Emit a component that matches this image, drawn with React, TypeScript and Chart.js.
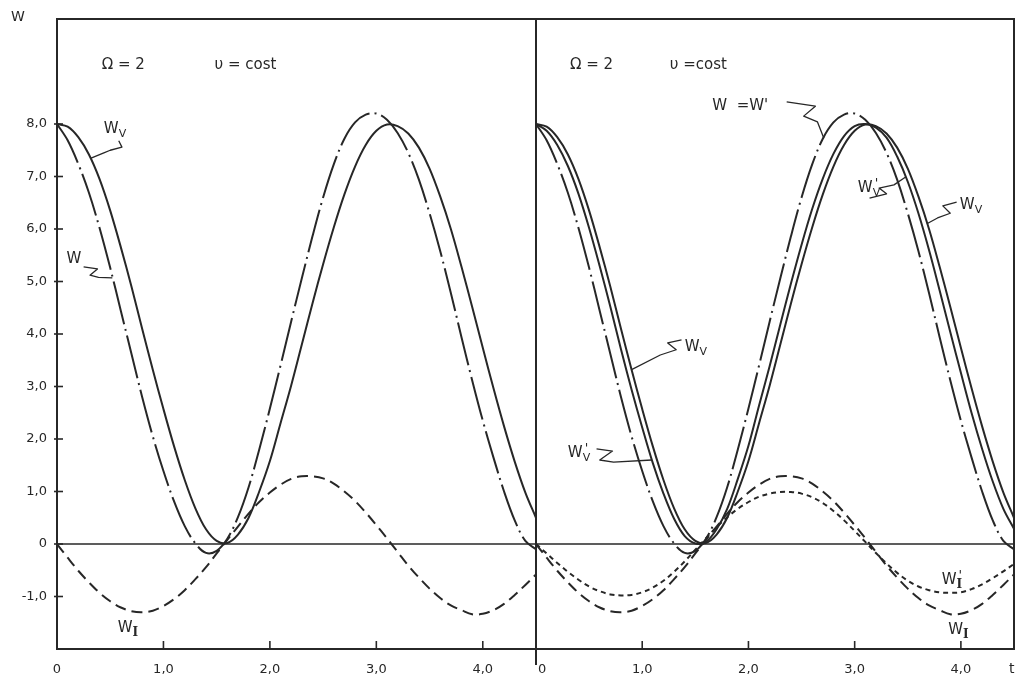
import React, { useEffect, useRef } from "react";
import { Chart, registerables } from "chart.js";

Chart.register(...registerables);

// ---- data ----
const tValues = [0, 0.1, 0.2, 0.3, 0.4, 0.5, 0.6, 0.7, 0.8, 0.9, 1.0, 1.1, 1.2, 1.3, 1.4, 1.5, 1.6, 1.7, 1.8, 1.9, 2.0, 2.1, 2.2, 2.3, 2.4, 2.5, 2.6, 2.7, 2.8, 2.9, 3.0, 3.1, 3.2, 3.3, 3.4, 3.5, 3.6, 3.7, 3.8, 3.9, 4.0, 4.1, 4.2, 4.3, 4.4, 4.5];

const wvValues = [8.0, 7.95, 7.75, 7.42, 6.95, 6.35, 5.65, 4.9, 4.1, 3.32, 2.57, 1.86, 1.22, 0.68, 0.28, 0.06, 0.02, 0.18, 0.5, 1.0, 1.58, 2.3, 3.02, 3.8, 4.58, 5.33, 6.03, 6.66, 7.19, 7.6, 7.87, 7.99, 7.96, 7.82, 7.55, 7.15, 6.62, 6.0, 5.28, 4.52, 3.74, 2.97, 2.24, 1.57, 0.98, 0.5];

const wValues = [8.0, 7.69, 7.24, 6.69, 6.02, 5.26, 4.44, 3.62, 2.8, 2.05, 1.39, 0.81, 0.34, 0.01, -0.17, -0.13, 0.1, 0.51, 1.08, 1.8, 2.58, 3.4, 4.24, 5.06, 5.86, 6.6, 7.23, 7.72, 8.03, 8.18, 8.2, 8.08, 7.83, 7.45, 6.94, 6.3, 5.58, 4.78, 3.94, 3.12, 2.35, 1.65, 1.0, 0.45, 0.06, -0.1];

const wvPrimeValues = [8.0, 7.87, 7.6, 7.2, 6.67, 6.02, 5.29, 4.52, 3.71, 2.94, 2.22, 1.54, 0.96, 0.48, 0.15, 0.01, 0.04, 0.28, 0.67, 1.24, 1.87, 2.64, 3.39, 4.18, 4.96, 5.7, 6.38, 6.96, 7.43, 7.77, 7.96, 8.0, 7.93, 7.74, 7.38, 6.9, 6.3, 5.6, 4.83, 4.04, 3.26, 2.5, 1.81, 1.19, 0.67, 0.29];

const wiValues = [0.0, -0.26, -0.51, -0.73, -0.93, -1.09, -1.21, -1.28, -1.3, -1.27, -1.18, -1.05, -0.88, -0.67, -0.44, -0.18, 0.08, 0.33, 0.58, 0.8, 0.98, 1.13, 1.24, 1.29, 1.29, 1.25, 1.15, 1.0, 0.82, 0.6, 0.36, 0.11, -0.15, -0.41, -0.64, -0.85, -1.03, -1.17, -1.26, -1.34, -1.33, -1.26, -1.14, -0.97, -0.78, -0.58];

const wiPrimeValues = [0.0, -0.18, -0.36, -0.53, -0.68, -0.81, -0.9, -0.96, -0.98, -0.97, -0.92, -0.83, -0.7, -0.53, -0.33, -0.11, 0.11, 0.32, 0.51, 0.67, 0.8, 0.9, 0.96, 0.99, 0.99, 0.96, 0.89, 0.78, 0.63, 0.45, 0.25, 0.04, -0.17, -0.37, -0.55, -0.7, -0.81, -0.88, -0.92, -0.93, -0.92, -0.86, -0.77, -0.65, -0.52, -0.38];

const xTickValues = [0, 1, 2, 3, 4];
const xTickLabels = ["0", "1,0", "2,0", "3,0", "4,0"];
const yTickValues = [-1, 0, 1, 2, 3, 4, 5, 6, 7, 8];
const yTickLabels = ["-1,0", "0", "1,0", "2,0", "3,0", "4,0", "5,0", "6,0", "7,0", "8,0"];

const X_MIN = 0;
const X_MAX = 4.5;
const Y_MIN = -2;
const Y_MAX = 10;

// ---- styling ----
const INK = "#272727";
const SANS = "'DejaVu Sans', 'Liberation Sans', sans-serif";
const SERIF = "'DejaVu Serif', 'Liberation Serif', serif";

const DASH_DOT = [44, 5, 2, 5];
const LONG_DASH = [11, 6];
const SHORT_DASH = [5, 4];

function makePoints(values: number[]) {
  return tValues.map((t, i) => ({ x: t, y: values[i] }));
}

function line(label: string, values: number[], dash: number[], width = 2) {
  return {
    label,
    data: makePoints(values),
    borderColor: INK,
    borderWidth: width,
    borderDash: dash,
    pointRadius: 0,
    tension: 0.35,
    fill: false,
    clip: 0,
  };
}

type Ann = {
  main: string;
  sub?: string;
  prime?: boolean;
  at: [number, number];
  leader?: [number, number][];
};

type PanelCfg = {
  left: number;
  width: number;
  padding: { left: number; right: number; top: number; bottom: number };
  datasets: any[];
  showYTicks: boolean;
  zeroLabelShift: number;
  headers: { text: string; at: [number, number] }[];
  annotations: Ann[];
  extra?: (ctx: CanvasRenderingContext2D, chart: any) => void;
};

function drawAnn(ctx: CanvasRenderingContext2D, xs: any, ys: any, a: Ann) {
  const x = xs.getPixelForValue(a.at[0]);
  const y = ys.getPixelForValue(a.at[1]);
  ctx.fillStyle = INK;
  ctx.textAlign = "left";
  ctx.textBaseline = "alphabetic";
  ctx.font = `15px ${SANS}`;
  ctx.fillText(a.main, x, y);
  const w = ctx.measureText(a.main).width;
  if (a.sub) {
    ctx.font = a.sub === "I" ? `bold 12px ${SERIF}` : `11px ${SANS}`;
    ctx.fillText(a.sub, x + w, y + 4);
  }
  if (a.prime) {
    ctx.font = `13px ${SANS}`;
    ctx.fillText("'", x + w + 2, y - 5);
  }
  if (a.leader) {
    ctx.beginPath();
    a.leader.forEach(([t, v], i) => {
      const px = xs.getPixelForValue(t);
      const py = ys.getPixelForValue(v);
      if (i === 0) ctx.moveTo(px, py);
      else ctx.lineTo(px, py);
    });
    ctx.strokeStyle = INK;
    ctx.lineWidth = 1.3;
    ctx.lineJoin = "round";
    ctx.setLineDash([]);
    ctx.stroke();
  }
}

function Panel({ cfg }: { cfg: PanelCfg }) {
  const ref = useRef<HTMLCanvasElement | null>(null);
  useEffect(() => {
    if (!ref.current) return;
    const deco = {
      id: "deco",
      beforeDatasetsDraw(chart: any) {
        const { ctx, chartArea: ca } = chart;
        const ys = chart.scales.y;
        const y0 = ys.getPixelForValue(0);
        ctx.save();
        ctx.strokeStyle = INK;
        ctx.lineWidth = 1.5;
        ctx.setLineDash([]);
        ctx.beginPath();
        ctx.moveTo(ca.left, y0);
        ctx.lineTo(ca.right, y0);
        ctx.stroke();
        ctx.restore();
      },
      afterDatasetsDraw(chart: any) {
        const { ctx, chartArea: ca } = chart;
        const xs = chart.scales.x;
        const ys = chart.scales.y;
        ctx.save();
        ctx.setLineDash([]);
        ctx.strokeStyle = INK;
        ctx.fillStyle = INK;
        ctx.lineWidth = 2;
        ctx.strokeRect(ca.left, ca.top, ca.right - ca.left, ca.bottom - ca.top);

        // x ticks (inward) and labels
        ctx.lineWidth = 1.6;
        ctx.font = `13px ${SANS}`;
        ctx.textBaseline = "middle";
        xTickValues.forEach((v, i) => {
          const px = xs.getPixelForValue(v);
          if (v !== 0) {
            ctx.beginPath();
            ctx.moveTo(px, ca.bottom);
            ctx.lineTo(px, ca.bottom - 8);
            ctx.stroke();
          }
          if (v === 0 && cfg.zeroLabelShift) {
            ctx.textAlign = "left";
            ctx.fillText(xTickLabels[i], px + cfg.zeroLabelShift, ca.bottom + 21);
          } else {
            ctx.textAlign = "center";
            ctx.fillText(xTickLabels[i], px, ca.bottom + 21);
          }
        });

        // y ticks and labels
        if (cfg.showYTicks) {
          ctx.textAlign = "right";
          yTickValues.forEach((v, i) => {
            const py = ys.getPixelForValue(v);
            ctx.beginPath();
            ctx.moveTo(ca.left - 3, py);
            ctx.lineTo(ca.left + 6, py);
            ctx.stroke();
            ctx.fillText(yTickLabels[i], ca.left - 10, py);
          });
        }

        // header texts
        ctx.textAlign = "left";
        ctx.textBaseline = "alphabetic";
        ctx.font = `15px ${SANS}`;
        cfg.headers.forEach((h) => {
          ctx.fillText(h.text, xs.getPixelForValue(h.at[0]), ys.getPixelForValue(h.at[1]));
        });

        cfg.annotations.forEach((a) => drawAnn(ctx, xs, ys, a));
        if (cfg.extra) cfg.extra(ctx, chart);
        ctx.restore();
      },
    };

    const chart = new Chart(ref.current, {
      type: "line",
      data: { datasets: cfg.datasets },
      options: {
        responsive: false,
        animation: false,
        devicePixelRatio: 1,
        layout: { padding: cfg.padding },
        plugins: { legend: { display: false }, tooltip: { enabled: false } },
        scales: {
          x: { type: "linear", min: X_MIN, max: X_MAX, display: false },
          y: { type: "linear", min: Y_MIN, max: Y_MAX, display: false },
        },
      },
      plugins: [deco],
    } as any);
    return () => chart.destroy();
  }, [cfg]);
  return (
    <canvas
      ref={ref}
      width={cfg.width}
      height={680}
      style={{ position: "absolute", left: cfg.left, top: 0, width: cfg.width, height: 680 }}
    />
  );
}

const leftCfg: PanelCfg = {
  left: 0,
  width: 545,
  padding: { left: 57, right: 9, top: 19, bottom: 31 },
  showYTicks: true,
  zeroLabelShift: 0,
  datasets: [
    line("W_V", wvValues, []),
    line("W", wValues, DASH_DOT),
    line("W_I", wiValues, LONG_DASH),
  ],
  headers: [
    { text: "Ω = 2", at: [0.42, 9.05] },
    { text: "υ = cost", at: [1.48, 9.05] },
  ],
  annotations: [
    { main: "W", sub: "V", at: [0.44, 7.83], leader: [[0.58, 7.68], [0.61, 7.56], [0.5, 7.5], [0.44, 7.45], [0.32, 7.35]] },
    { main: "W", at: [0.09, 5.35], leader: [[0.25, 5.28], [0.38, 5.24], [0.31, 5.12], [0.39, 5.08], [0.52, 5.07]] },
    { main: "W", sub: "I", at: [0.57, -1.68] },
  ],
  extra: (ctx, chart) => {
    const ca = chart.chartArea;
    ctx.lineWidth = 2;
    ctx.beginPath();
    ctx.moveTo(ca.right, ca.bottom);
    ctx.lineTo(ca.right, ca.bottom + 16);
    ctx.stroke();
    ctx.font = `14px ${SANS}`;
    ctx.textAlign = "left";
    ctx.fillText("W", 11, 21);
  },
};

const rightCfg: PanelCfg = {
  left: 520,
  width: 497,
  padding: { left: 16, right: 3, top: 19, bottom: 31 },
  showYTicks: false,
  zeroLabelShift: 2,
  datasets: [
    line("W = W'", wValues, DASH_DOT),
    line("W'_V", wvPrimeValues, []),
    line("W_V", wvValues, []),
    line("W_I", wiValues, LONG_DASH),
    line("W'_I", wiPrimeValues, SHORT_DASH),
  ],
  headers: [
    { text: "Ω = 2", at: [0.32, 9.05] },
    { text: "υ =cost", at: [1.26, 9.05] },
  ],
  annotations: [
    { main: "W  =W'", at: [1.66, 8.27], leader: [[2.36, 8.42], [2.63, 8.34], [2.52, 8.15], [2.65, 8.04], [2.71, 7.73]] },
    { main: "W", sub: "V", prime: true, at: [3.03, 6.7], leader: [[3.14, 6.59], [3.3, 6.67], [3.23, 6.78], [3.37, 6.84], [3.48, 6.99]] },
    { main: "W", sub: "V", at: [3.99, 6.38], leader: [[3.96, 6.51], [3.83, 6.44], [3.9, 6.3], [3.78, 6.21], [3.68, 6.1]] },
    { main: "W", sub: "V", at: [1.4, 3.68], leader: [[1.37, 3.89], [1.24, 3.83], [1.32, 3.7], [1.17, 3.6], [0.9, 3.32]] },
    { main: "W", sub: "V", prime: true, at: [0.3, 1.66], leader: [[0.57, 1.81], [0.72, 1.77], [0.6, 1.6], [0.73, 1.56], [1.09, 1.6]] },
    { main: "W", sub: "I", prime: true, at: [3.82, -0.76] },
    { main: "W", sub: "I", at: [3.88, -1.71] },
  ],
  extra: (ctx, chart) => {
    const ca = chart.chartArea;
    ctx.lineWidth = 2;
    ctx.beginPath();
    ctx.moveTo(ca.left, ca.bottom);
    ctx.lineTo(ca.left, ca.bottom + 16);
    ctx.stroke();
    ctx.font = `14px ${SANS}`;
    ctx.textAlign = "left";
    ctx.textBaseline = "middle";
    ctx.fillText("t", ca.right - 5, ca.bottom + 20);
  },
};

export default function App() {
  return (
    <div style={{ position: "fixed", left: 0, top: 0, width: 1017, height: 680, background: "#fff", overflow: "hidden" }}>
      <Panel cfg={leftCfg} />
      <Panel cfg={rightCfg} />
    </div>
  );
}
